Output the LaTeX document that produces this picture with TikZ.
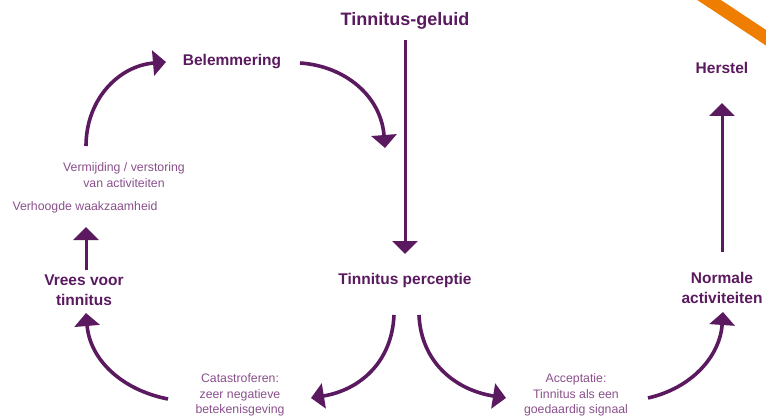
\documentclass[tikz,border=0pt]{standalone}
\usepackage{fontspec}
\setmainfont{Liberation Sans}
\usetikzlibrary{arrows.meta}
\definecolor{pur}{HTML}{5B1A5F}
\definecolor{lpur}{HTML}{8A4F8C}
\definecolor{orng}{HTML}{EF7D00}
\begin{document}
\begin{tikzpicture}[x=1pt,y=-1pt,
  big/.style={text=pur,font=\bfseries\fontsize{15.5}{19.5}\selectfont,align=center,inner sep=0pt},
  small/.style={text=lpur,font=\fontsize{12.3}{15.5}\selectfont,align=center,inner sep=0pt},
  arr/.style={draw=pur,line width=3.6pt,-{Triangle[width=25pt,length=13pt]}},
  varr/.style={draw=pur,line width=3pt,-{Triangle[width=25pt,length=13pt]}}]
\useasboundingbox (0,0) rectangle (766,417);
\begin{scope}
\clip (0,0) rectangle (766,417);
\draw[orng,line width=13pt] (700,-6) -- (780,47);
\end{scope}
% nodes
\node[big,font=\bfseries\fontsize{18}{22}\selectfont] (geluid) at (405,21) {Tinnitus-geluid};
\node[big] (perc) at (405,280) {Tinnitus perceptie};
\node[big] (belem) at (232,62) {Belemmering};
\node[big] (herstel) at (722,68) {Herstel};
\node[big] (normaal) at (722,288) {Normale\\activiteiten};
\node[big] (vrees) at (84,290) {Vrees voor\\tinnitus};
\node[small] (verm) at (124,175) {Vermijding / verstoring\\van activiteiten};
\node[small] (waak) at (85,207) {Verhoogde waakzaamheid};
\node[small] (cata) at (240,395) {Catastroferen:\\zeer negatieve\\betekenisgeving};
\node[small] (acc) at (576,395) {Acceptatie:\\Tinnitus als een\\goedaardig signaal};
% connector ends
\coordinate (g1) at (405,40);
\coordinate (p0) at (405,254);
\coordinate (v1) at (86,146);
\coordinate (b0) at (166,62);
\coordinate (b1) at (300,63);
\coordinate (d0) at (385,148);
\coordinate (pl) at (394,315);
\coordinate (c0) at (311,398);
\coordinate (pr) at (419,315);
\coordinate (a0) at (506,398);
\coordinate (c1) at (168,399);
\coordinate (vr0) at (86,313);
\coordinate (vr1) at (86,270);
\coordinate (w0) at (86,227);
\coordinate (a1) at (648,398);
\coordinate (n0) at (723,312);
\coordinate (n1) at (722,252);
\coordinate (h0) at (722,103);
% connectors
\draw[varr] (g1) -- (p0);
\draw[arr] (v1) .. controls (86,100) and (118,66) .. (b0);
\draw[arr] (b1) .. controls (345,66) and (381,96) .. (d0);
\draw[arr] (pl) .. controls (392,362) and (360,390) .. (c0);
\draw[arr] (pr) .. controls (421,362) and (455,390) .. (a0);
\draw[arr] (c1) .. controls (122,390) and (90,360) .. (vr0);
\draw[arr] (a1) .. controls (692,388) and (720,356) .. (n0);
\draw[varr] (vr1) -- (w0);
\draw[varr] (n1) -- (h0);
\end{tikzpicture}
\end{document}
